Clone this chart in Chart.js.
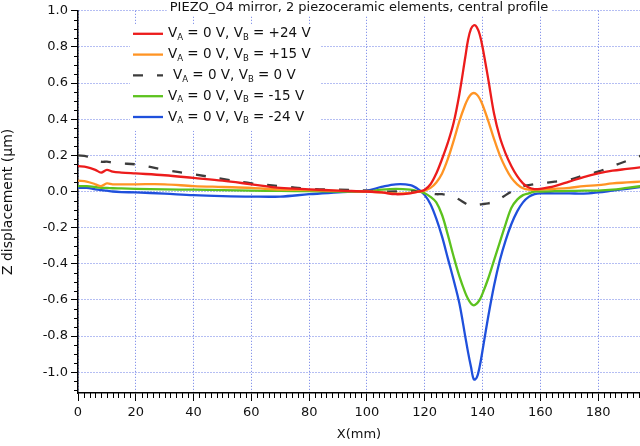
<!DOCTYPE html>
<html>
<head>
<meta charset="utf-8">
<script src="https://cdn.jsdelivr.net/npm/chart.js@4.4.1/dist/chart.umd.min.js"></script>
<style>
  html, body { margin: 0; padding: 0; background: #fff; }
  #wrap { width: 640px; height: 446px; }
</style>
</head>
<body>
<div id="wrap"><canvas id="profileChart" width="640" height="446"></canvas></div>
<script>
// X position along the mirror (mm)
const xPositions = [0, 3, 6, 8, 10, 12, 15, 20, 30, 40, 50, 60, 70, 80, 90, 100, 105, 110, 115, 118,
  120, 122, 124, 126, 128, 130, 132, 134, 135, 136, 137, 138, 139, 140, 142, 144, 146, 148, 150, 152, 154, 156, 158, 160,
  165, 170, 175, 180, 185, 190, 195];

// Z displacement (um) for each V_B setting (V_A = 0 V)
const zPlus24 = [0.14, 0.135, 0.12, 0.105, 0.12, 0.11, 0.105, 0.1, 0.09, 0.075, 0.06, 0.04, 0.02, 0.012, 0.005, 0.0, -0.005, -0.015, -0.01, 0.0,
  0.01, 0.04, 0.1, 0.18, 0.27, 0.38, 0.54, 0.74, 0.84, 0.9, 0.92, 0.91, 0.87, 0.8, 0.62, 0.43, 0.3, 0.21, 0.14, 0.085, 0.045, 0.022, 0.013, 0.015,
  0.03, 0.055, 0.08, 0.1, 0.115, 0.125, 0.135];
const zPlus15 = [0.06, 0.055, 0.04, 0.03, 0.045, 0.04, 0.04, 0.04, 0.04, 0.03, 0.025, 0.02, 0.01, 0.008, 0.003, 0.0, -0.005, -0.012, -0.008, 0.0,
  0.005, 0.02, 0.05, 0.1, 0.18, 0.28, 0.39, 0.48, 0.515, 0.538, 0.545, 0.537, 0.515, 0.48, 0.39, 0.29, 0.2, 0.13, 0.075, 0.04, 0.018, 0.01, 0.01, 0.012,
  0.015, 0.02, 0.03, 0.035, 0.045, 0.05, 0.055];
const zZero = [0.2, 0.195, 0.18, 0.165, 0.165, 0.16, 0.155, 0.15, 0.12, 0.095, 0.07, 0.045, 0.03, 0.015, 0.01, 0.005, 0.0, 0.0, 0.0, 0.0,
  -0.005, -0.01, -0.015, -0.015, -0.02, -0.025, -0.045, -0.065, -0.075, -0.078, -0.078, -0.075, -0.072, -0.07, -0.065, -0.058, -0.04, -0.02, 0.0, 0.02, 0.03, 0.035, 0.04, 0.044,
  0.055, 0.065, 0.09, 0.11, 0.14, 0.17, 0.2];
const zMinus15 = [0.03, 0.03, 0.025, 0.02, 0.02, 0.018, 0.017, 0.015, 0.012, 0.01, 0.008, 0.005, 0.003, 0.002, 0.0, 0.0, 0.01, 0.015, 0.01, 0.0,
  -0.01, -0.03, -0.06, -0.13, -0.24, -0.36, -0.47, -0.56, -0.595, -0.62, -0.63, -0.62, -0.6, -0.565, -0.48, -0.38, -0.28, -0.18, -0.09, -0.045, -0.02, -0.01, 0.0, 0.0,
  0.002, 0.003, 0.005, 0.005, 0.01, 0.02, 0.03];
const zMinus24 = [0.02, 0.02, 0.012, 0.008, 0.005, 0.0, -0.003, -0.005, -0.012, -0.02, -0.025, -0.028, -0.028, -0.015, -0.005, 0.005, 0.025, 0.04, 0.035, 0.01,
  -0.02, -0.07, -0.15, -0.25, -0.37, -0.49, -0.62, -0.8, -0.89, -0.97, -1.04, -1.03, -0.97, -0.88, -0.69, -0.52, -0.38, -0.27, -0.18, -0.11, -0.06, -0.03, -0.015, -0.01,
  -0.01, -0.01, -0.012, -0.005, 0.005, 0.015, 0.025];

const vbLabels = ['+24', '+15', '0', '-15', '-24'];
const seriesColors = ['#ec1c1c', '#ff9424', '#3c3c3c', '#5cc21e', '#1f50dc'];

// tick labels
const xTickValues = [0, 20, 40, 60, 80, 100, 120, 140, 160, 180];
const yTickValues = [-1.0, -0.8, -0.6, -0.4, -0.2, 0.0, 0.2, 0.4, 0.6, 0.8, 1.0];

const chartTitle = 'PIEZO_O4 mirror, 2 piezoceramic elements, central profile';
const FONT = '"DejaVu Sans", Verdana, sans-serif';

function toPoints(ys) {
  return ys.map((y, i) => ({ x: xPositions[i], y: y }));
}

const seriesData = [zPlus24, zPlus15, zZero, zMinus15, zMinus24];

const datasets = seriesData.map((ys, i) => ({
  label: 'VA = 0 V, VB = ' + vbLabels[i] + ' V',
  data: toPoints(ys),
  borderColor: seriesColors[i],
  borderWidth: 2.3,
  borderDash: vbLabels[i] === '0' ? [10, 14] : [],
  pointRadius: 0,
  fill: false,
  tension: 0.35
}));

// minor ticks on the left and bottom axes
const minorTicks = {
  id: 'minorTicks',
  afterDraw(chart) {
    const ctx = chart.ctx;
    const xs = chart.scales.x, ys = chart.scales.y;
    const area = chart.chartArea;
    ctx.save();
    ctx.strokeStyle = '#000';
    ctx.lineWidth = 1;
    ctx.beginPath();
    for (let v = 0; v <= xs.max; v += 2) {
      if (v % 20 === 0) continue;
      const px = Math.round(xs.getPixelForValue(v)) + 0.5;
      ctx.moveTo(px, area.bottom);
      ctx.lineTo(px, area.bottom + 5);
    }
    for (let k = Math.ceil(ys.min / 0.05); k * 0.05 <= ys.max + 1e-9; k++) {
      if (k % 4 === 0) continue;
      const py = Math.round(ys.getPixelForValue(k * 0.05)) + 0.5;
      ctx.moveTo(area.left - 4, py);
      ctx.lineTo(area.left, py);
    }
    ctx.stroke();
    ctx.restore();
  }
};

// draws text like "VA = 0 V, VB = +24 V" with subscripts
function drawSubText(ctx, x, y, vb) {
  const parts = [['V', 0], ['A', 1], [' = 0 V, V', 0], ['B', 1], [' = ' + vb + ' V', 0]];
  let cx = x;
  parts.forEach(([t, sub]) => {
    ctx.font = sub ? '8.5px ' + FONT : '13.5px ' + FONT;
    ctx.fillText(t, cx, y + (sub ? 4 : 0));
    cx += ctx.measureText(t).width;
  });
}

const titleAndLegend = {
  id: 'titleAndLegend',
  beforeDatasetsDraw(chart) {
    const ctx = chart.ctx;
    const area = chart.chartArea;
    ctx.save();
    // title
    ctx.font = '13px ' + FONT;
    const tw = ctx.measureText(chartTitle).width;
    const cx = (area.left + area.right) / 2;
    ctx.fillStyle = '#fff';
    ctx.fillRect(cx - tw / 2 - 3, 0, tw + 6, 16);
    ctx.fillStyle = '#111';
    ctx.textBaseline = 'middle';
    ctx.textAlign = 'center';
    ctx.fillText(chartTitle, cx, 8);

    // legend
    const lx = area.left + 55, ly = area.top + 23, rowH = 20.8;
    ctx.fillStyle = '#fff';
    ctx.fillRect(lx - 3, ly - 9, 190, rowH * 5 + 2);
    ctx.textAlign = 'left';
    chart.data.datasets.forEach((ds, i) => {
      const y = ly + i * rowH;
      ctx.strokeStyle = ds.borderColor;
      ctx.lineWidth = 2.3;
      ctx.setLineDash(ds.borderDash);
      ctx.beginPath();
      ctx.moveTo(lx, y);
      ctx.lineTo(lx + 30, y);
      ctx.stroke();
      ctx.setLineDash([]);
      ctx.fillStyle = '#111';
      drawSubText(ctx, lx + 35 + (vbLabels[i] === '0' ? 5 : 0), y, vbLabels[i]);
    });
    ctx.restore();
  }
};

const gridColor = '#6a7ce6';

new Chart(document.getElementById('profileChart'), {
  type: 'line',
  data: { datasets: datasets },
  plugins: [minorTicks, titleAndLegend],
  options: {
    responsive: false,
    animation: false,
    layout: { padding: { top: 6, right: 0, left: 0, bottom: 0 } },
    plugins: {
      legend: { display: false },
      title: { display: false },
      tooltip: { enabled: false }
    },
    scales: {
      x: {
        type: 'linear',
        min: 0,
        max: 194.5,
        afterBuildTicks: s => { s.ticks = xTickValues.map(v => ({ value: v })); },
        afterFit: s => { s.height = 53; },
        grid: { color: gridColor, lineWidth: 1, tickLength: 8, tickColor: '#000', tickWidth: 1 },
        border: { display: true, color: '#000', width: 1.5, dash: [1, 2] },
        ticks: { color: '#111', font: { family: FONT, size: 13 }, padding: 4, maxRotation: 0, autoSkip: false },
        title: { display: true, text: 'X(mm)', color: '#111', font: { family: FONT, size: 13 }, padding: { top: 0, bottom: 4 } }
      },
      y: {
        type: 'linear',
        min: -1.115,
        max: 1.0,
        afterBuildTicks: s => { s.ticks = yTickValues.map(v => ({ value: v })); },
        afterFit: s => { s.width = 78; },
        grid: { color: gridColor, lineWidth: 1, tickLength: 7, tickColor: '#000', tickWidth: 1 },
        border: { display: true, color: '#000', width: 1.5, dash: [1, 2] },
        ticks: { color: '#111', font: { family: FONT, size: 13 }, padding: 3, callback: v => v.toFixed(1) },
        title: { display: true, text: 'Z displacement (\u03bcm)', color: '#111', font: { family: FONT, size: 14 }, padding: { top: 0, bottom: 0 } }
      }
    }
  }
});
</script>
</body>
</html>
